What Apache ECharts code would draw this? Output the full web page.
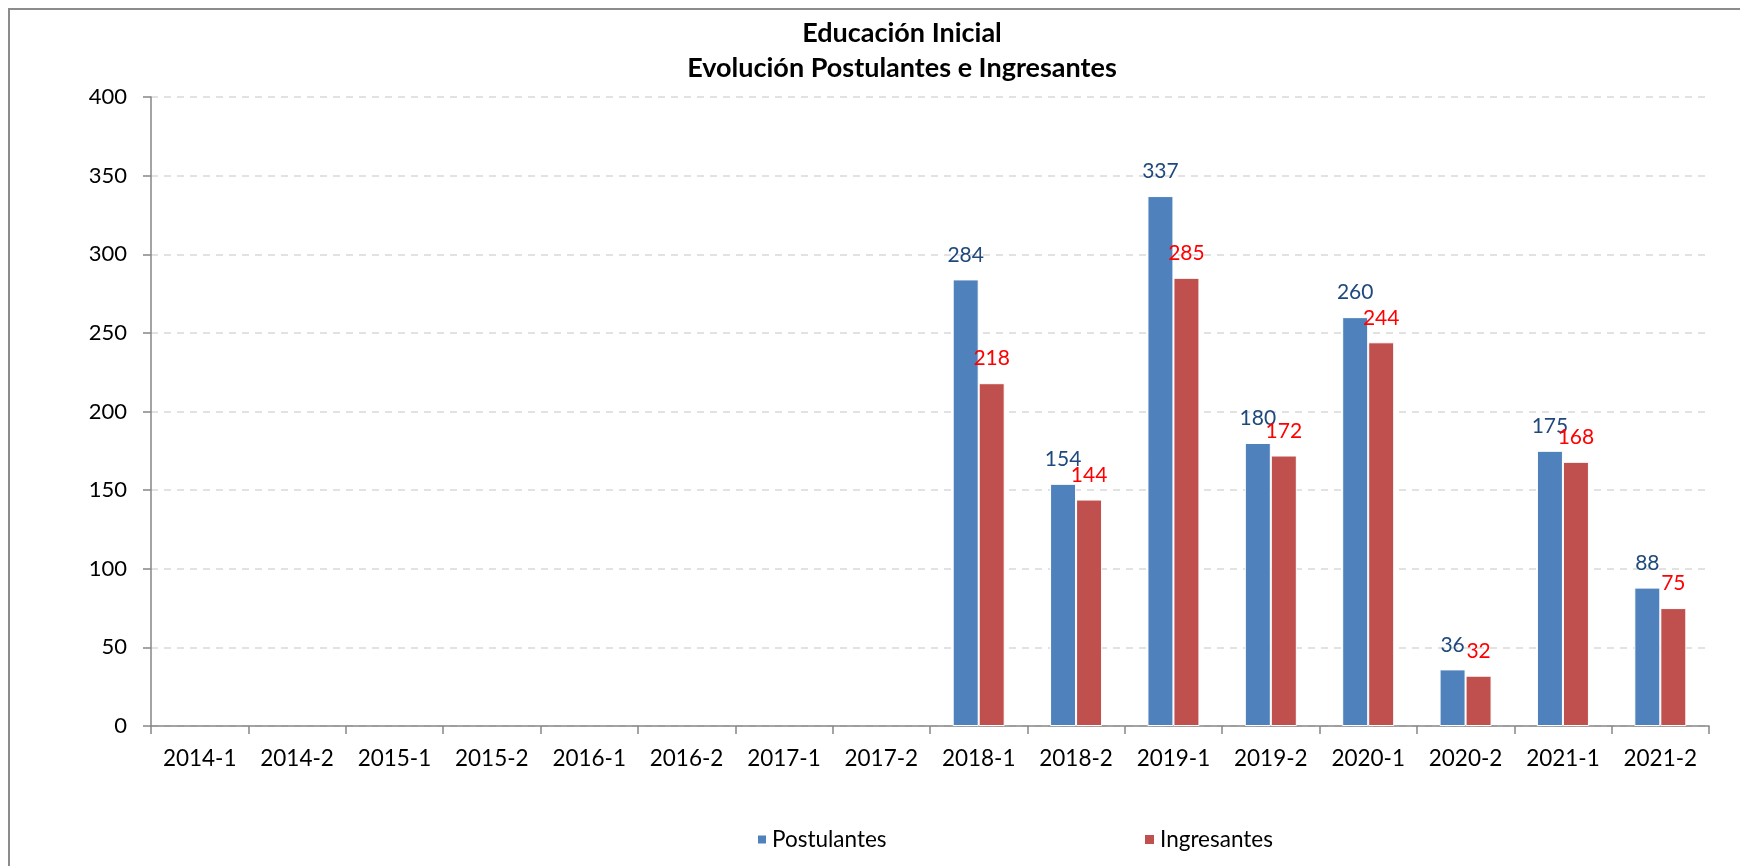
<!DOCTYPE html>
<html>
<head>
<meta charset="utf-8">
<script src="https://cdn.jsdelivr.net/npm/echarts@6/dist/echarts.min.js"></script>
<style>
html,body{margin:0;padding:0;background:#fff;}
#chart{width:1740px;height:866px;}
</style>
</head>
<body>
<div id="chart"></div>
<script>
const categories = ['2014-1','2014-2','2015-1','2015-2','2016-1','2016-2','2017-1','2017-2','2018-1','2018-2','2019-1','2019-2','2020-1','2020-2','2021-1','2021-2'];
const postulantes = [null,null,null,null,null,null,null,null,284,154,337,180,260,36,175,88];
const ingresantes = [null,null,null,null,null,null,null,null,218,144,285,172,244,32,168,75];
const yTicks = {min:0, max:400, interval:50};
const titleLines = ['Educación Inicial','Evolución Postulantes e Ingresantes'];

const FONT = 'Lato, "Noto Sans", sans-serif';
const chart = echarts.init(document.getElementById('chart'));
chart.setOption({
  animation:false,
  backgroundColor:'#fff',
  title:{
    text: titleLines.join('\n'),
    left: 902, top: 16, padding:0, textAlign:'center',
    textStyle:{fontFamily:FONT, fontSize:27, fontWeight:'bold', color:'#000', lineHeight:35}
  },
  graphic:[{type:'rect', shape:{x:9,y:9,width:1800,height:900}, style:{fill:'none', stroke:'#8c8c8c', lineWidth:2}, silent:true}],
  legend:[
    {data:['Postulantes'], left:756, top:828, padding:0, itemWidth:10, itemHeight:10, itemGap:10, icon:'rect',
     textStyle:{fontFamily:FONT, fontSize:22.5, color:'#000'}},
    {data:['Ingresantes'], left:1143, top:828, padding:0, itemWidth:11, itemHeight:11, itemGap:8, icon:'rect',
     textStyle:{fontFamily:FONT, fontSize:22.5, color:'#000'}}
  ],
  grid:{left:151, right:31, top:97, bottom:140, containLabel:false},
  xAxis:{
    type:'category', data:categories,
    axisLine:{lineStyle:{color:'#868686', width:1.5}},
    axisTick:{show:true, length:8, alignWithLabel:false, lineStyle:{color:'#868686', width:1.5}},
    axisLabel:{fontFamily:FONT, fontSize:22.5, color:'#000', margin:21, interval:0}
  },
  yAxis:{
    type:'value', min:yTicks.min, max:yTicks.max, interval:yTicks.interval,
    axisLine:{show:true, lineStyle:{color:'#868686', width:1.5}},
    axisTick:{show:true, length:8, lineStyle:{color:'#868686', width:1.5}},
    axisLabel:{fontFamily:FONT, fontSize:22, color:'#000', margin:24},
    splitLine:{show:true, lineStyle:{color:'#d9d9d9', width:1.5, type:[7,6]}}
  },
  series:[
    {name:'Postulantes', type:'bar', data:postulantes, barWidth:26, barGap:'0%',
     itemStyle:{color:'#4F81BD', borderColor:'#fff', borderWidth:1},
     label:{show:true, position:'top', distance:14, fontFamily:FONT, fontSize:21, color:'#1F497D'}},
    {name:'Ingresantes', type:'bar', data:ingresantes, barWidth:26,
     itemStyle:{color:'#C0504D', borderColor:'#fff', borderWidth:1},
     label:{show:true, position:'top', distance:14, fontFamily:FONT, fontSize:21, color:'#FF0000'}}
  ]
});
</script>
</body>
</html>
